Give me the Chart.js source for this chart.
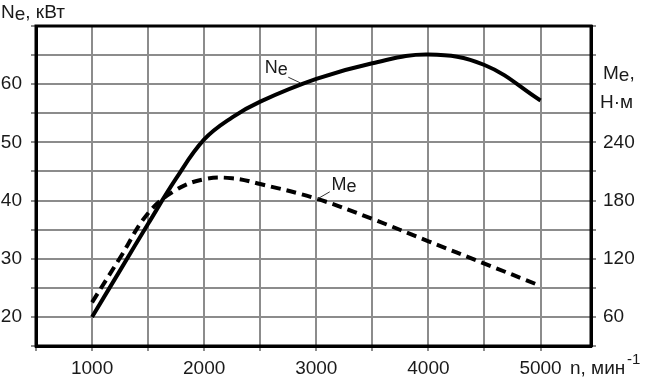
<!DOCTYPE html>
<html>
<head>
<meta charset="utf-8">
<script src="https://cdn.jsdelivr.net/npm/chart.js@4.4.0/dist/chart.umd.min.js"></script>
<style>
  html, body { margin: 0; padding: 0; background: #fff; }
  #wrap { width: 646px; height: 377px; }
</style>
</head>
<body>
<div id="wrap"><canvas id="chart" width="646" height="377"></canvas></div>
<script>
// обороты, мин-1
const rpm = [1000, 1250, 1500, 1750, 2000, 2250, 2500, 3000, 3500, 4000, 4500, 5000];
// мощность Ne, кВт
const powerNe = [20, 28, 36, 43.8, 50.5, 54.3, 57.0, 60.9, 63.6, 65.1, 63.3, 57.2];
// момент Me, Н·м
const torqueMe = [75, 121, 167, 191, 202, 203, 197, 182, 161, 138, 115, 92];

const xTicks = [500, 1000, 1500, 2000, 2500, 3000, 3500, 4000, 4500, 5000];
const xLabels = [1000, 2000, 3000, 4000, 5000];
const neTicks = [15, 20, 25, 30, 35, 40, 45, 50, 55, 60, 65, 70];
const neLabels = [20, 30, 40, 50, 60];
const meTicks = [30, 60, 90, 120, 150, 180, 210, 240, 270, 300, 330, 360];
const meLabels = [60, 120, 180, 240];

const FONT = 'Liberation Sans, Arial, sans-serif';
const GRID = '#8c8c8c';
const TXT = '#1a1a1a';

function pts(ys) {
  return rpm.map((x, i) => ({ x: x, y: ys[i] }));
}

// текст с нижним индексом: "N" + "e" + хвост
function subText(ctx, x, y, main, sub, rest, size) {
  ctx.font = size + 'px ' + FONT;
  ctx.fillText(main, x, y);
  x += ctx.measureText(main).width;
  ctx.fillText(sub, x, y + 2);
  x += ctx.measureText(sub).width;
  if (rest) ctx.fillText(rest, x, y);
}

const decor = {
  id: 'decor',
  afterDatasetsDraw(chart) {
    const { ctx, chartArea: a, scales } = chart;
    ctx.save();
    // рамка
    ctx.strokeStyle = '#000';
    ctx.lineWidth = 3;
    ctx.strokeRect(a.left, a.top, a.right - a.left, a.bottom - a.top);

    ctx.fillStyle = TXT;
    ctx.textBaseline = 'alphabetic';
    ctx.textAlign = 'left';
    // подписи осей
    subText(ctx, 1, 18, 'N', 'e', ', кВт', 19);
    subText(ctx, 603, 79, 'M', 'e', ',', 19);
    ctx.font = '19px ' + FONT;
    ctx.fillText('Н·м', 600, 108);
    ctx.fillText('n, мин', 570, 374);
    ctx.font = '15px ' + FONT;
    ctx.fillText('-1', 627, 364);

    // подписи кривых с выносками
    const x = scales.x, y = scales.y, y1 = scales.y1;
    subText(ctx, x.getPixelForValue(2540), y.getPixelForValue(62.0), 'N', 'e', '', 18);
    subText(ctx, x.getPixelForValue(3135), y1.getPixelForValue(191), 'M', 'e', '', 18);
    ctx.strokeStyle = '#333';
    ctx.lineWidth = 1;
    ctx.beginPath();
    ctx.moveTo(x.getPixelForValue(2750), y.getPixelForValue(61.2));
    ctx.lineTo(x.getPixelForValue(2860), y.getPixelForValue(60.2));
    ctx.moveTo(x.getPixelForValue(3120), y1.getPixelForValue(189));
    ctx.lineTo(x.getPixelForValue(3015), y1.getPixelForValue(182));
    ctx.stroke();
    ctx.restore();
  }
};

new Chart(document.getElementById('chart'), {
  type: 'line',
  data: {
    datasets: [
      {
        label: 'Ne',
        data: pts(powerNe),
        yAxisID: 'y',
        borderColor: '#000',
        borderWidth: 4,
        pointRadius: 0,
        tension: 0.4
      },
      {
        label: 'Me',
        data: pts(torqueMe),
        yAxisID: 'y1',
        borderColor: '#000',
        borderWidth: 4,
        borderDash: [10, 6],
        pointRadius: 0,
        tension: 0.4
      }
    ]
  },
  options: {
    responsive: false,
    animation: false,
    layout: { padding: { top: 26, left: 0, right: 0, bottom: 0 } },
    plugins: { legend: { display: false }, tooltip: { enabled: false } },
    scales: {
      x: {
        type: 'linear',
        min: 500,
        max: 5450,
        afterBuildTicks: s => { s.ticks = xTicks.map(v => ({ value: v })); },
        afterFit: s => { s.height = 31; },
        ticks: {
          autoSkip: false,
          maxRotation: 0,
          padding: 6,
          color: TXT,
          font: { family: FONT, size: 19 },
          callback: v => xLabels.includes(v) ? String(v) : ''
        },
        grid: { color: GRID, lineWidth: 2, tickLength: 5, tickColor: GRID },
        border: { color: '#000', width: 3 }
      },
      y: {
        position: 'left',
        min: 15,
        max: 70,
        afterBuildTicks: s => { s.ticks = neTicks.map(v => ({ value: v })); },
        afterFit: s => { s.width = 36; },
        ticks: {
          autoSkip: false,
          padding: 9,
          color: TXT,
          font: { family: FONT, size: 19 },
          callback: v => neLabels.includes(v) ? String(v) : ''
        },
        grid: { color: GRID, lineWidth: 2, tickLength: 5, tickColor: GRID },
        border: { color: '#000', width: 3 }
      },
      y1: {
        position: 'right',
        min: 30,
        max: 360,
        afterBuildTicks: s => { s.ticks = meTicks.map(v => ({ value: v })); },
        afterFit: s => { s.width = 55; },
        ticks: {
          autoSkip: false,
          padding: 7,
          color: TXT,
          font: { family: FONT, size: 19 },
          callback: v => meLabels.includes(v) ? String(v) : ''
        },
        grid: { drawOnChartArea: false, color: GRID, lineWidth: 2, tickLength: 5, tickColor: GRID },
        border: { color: '#000', width: 3 }
      }
    }
  },
  plugins: [decor]
});
</script>
</body>
</html>
